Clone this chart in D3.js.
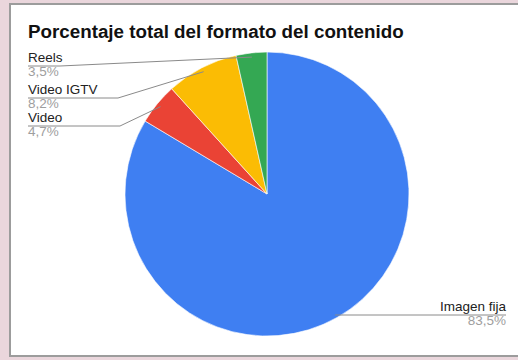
<!DOCTYPE html>
<html>
<head>
<meta charset="utf-8">
<script src="https://cdn.jsdelivr.net/npm/d3@7"></script>
<style>
  html, body { margin: 0; padding: 0; background: #ead6dc; }
  svg { display: block; }
</style>
</head>
<body>
<svg id="chart" width="518" height="360"></svg>
<script>
// datos del grafico
var categories = ['Imagen fija', 'Video', 'Video IGTV', 'Reels']
var values = [83.5, 4.7, 8.2, 3.5]
var valueLabels = ['83,5%', '4,7%', '8,2%', '3,5%']
var colors = ['#3f7ff2', '#ea4335', '#fbbc04', '#34a853']

var svg = d3.select('#chart')
var width = 518
var height = 360

// marco
svg.append('rect')
  .attr('x', 9).attr('y', 3)
  .attr('width', width - 9).attr('height', 354)
  .attr('fill', '#ffffff')
svg.append('path')
  .attr('d', 'M' + width + ',4 H10 V356 H' + width)
  .attr('fill', 'none')
  .attr('stroke', '#9c9c9c')
  .attr('stroke-width', 2)

svg.append('text')
  .attr('x', 28).attr('y', 38)
  .attr('font-family', 'Arial, "Liberation Sans", sans-serif')
  .attr('font-weight', 'bold')
  .attr('font-size', 18.8)
  .attr('fill', '#111')
  .text('Porcentaje total del formato del contenido')

var cx = 267
var cy = 194
var radius = 142

var pie = d3.pie().sort(null).value(function (d) { return d })
var arcs = pie(values)
var arc = d3.arc().innerRadius(0).outerRadius(radius)

var g = svg.append('g').attr('transform', 'translate(' + cx + ',' + cy + ')')
g.selectAll('path.slice')
  .data(arcs)
  .enter()
  .append('path')
  .attr('class', 'slice')
  .attr('d', arc)
  .attr('fill', function (d, i) { return colors[i] })
  .attr('stroke', '#ffffff')
  .attr('stroke-width', 0.6)

// posiciones de las etiquetas (layout)
var labelPos = [
  { x: 506, y: 311, anchor: 'end', elbow: null },
  { x: 28, y: 122, anchor: 'start', elbow: 120 },
  { x: 28, y: 94, anchor: 'start', elbow: 118 },
  { x: 28, y: 62, anchor: 'start', elbow: 60 }
]

var font = 'Arial, "Liberation Sans", sans-serif'
arcs.forEach(function (d, i) {
  var p = labelPos[i]
  var mid = (d.startAngle + d.endAngle) / 2
  var r2 = radius * 0.97
  var px = cx + r2 * Math.sin(mid)
  var py = cy - r2 * Math.cos(mid)
  var ly = p.y + 4
  var pts
  if (p.anchor === 'end') {
    pts = [[px, ly], [p.x, ly]]
  } else {
    pts = [[p.x, ly], [p.elbow, ly], [px, py]]
  }
  svg.append('path')
    .attr('d', d3.line()(pts))
    .attr('fill', 'none')
    .attr('stroke', '#8a8a8a')
    .attr('stroke-width', 1)
  svg.append('text')
    .attr('x', p.x).attr('y', p.y)
    .attr('text-anchor', p.anchor)
    .attr('font-family', font)
    .attr('font-size', 13.5)
    .attr('fill', '#222')
    .text(categories[i])
  svg.append('text')
    .attr('x', p.x).attr('y', p.y + 14)
    .attr('text-anchor', p.anchor)
    .attr('font-family', font)
    .attr('font-size', 13.5)
    .attr('fill', '#9e9e9e')
    .text(valueLabels[i])
})
</script>
</body>
</html>
